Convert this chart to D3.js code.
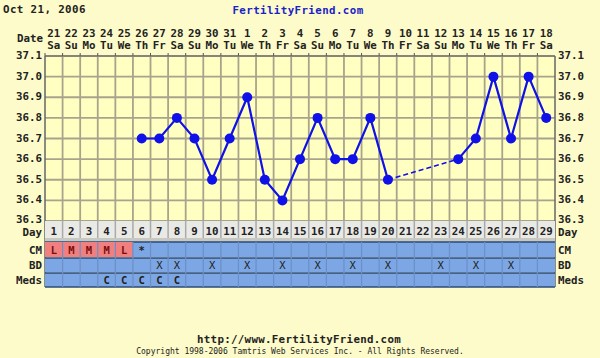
<!DOCTYPE html>
<html><head><meta charset="utf-8">
<script src="https://cdn.jsdelivr.net/npm/d3@7"></script>
<style>
html,body{margin:0;padding:0;background:#fdfbc9;}
svg{display:block;}
text{font-family:"DejaVu Sans Mono",monospace;font-weight:bold;fill:#222;}
</style></head><body>
<script>
const dayNums = d3.range(1, 30);
const dates = ["21","22","23","24","25","26","27","28","29","30","31","1","2","3","4","5","6","7","8","9","10","11","12","13","14","15","16","17","18"];
const weekdays = ["Sa","Su","Mo","Tu","We","Th","Fr","Sa","Su","Mo","Tu","We","Th","Fr","Sa","Su","Mo","Tu","We","Th","Fr","Sa","Su","Mo","Tu","We","Th","Fr","Sa"];
const tempDays = [6,7,8,9,10,11,12,13,14,15,16,17,18,19,20,24,25,26,27,28,29];
const temps = [36.7,36.7,36.8,36.7,36.5,36.7,36.9,36.5,36.4,36.6,36.8,36.6,36.6,36.8,36.5,36.6,36.7,37.0,36.7,37.0,36.8];
const yTicks = [36.3,36.4,36.5,36.6,36.7,36.8,36.9,37.0,37.1];
const cmDays = [1,2,3,4,5,6];
const cmVals = ["L","M","M","M","L","*"];
const bdDays = [7,8,10,12,14,16,18,20,23,25,27];
const medsDays = [4,5,6,7,8];
const medsVals = ["C","C","C","C","C"];

(function(){
const W = 600, H = 358;
const pL = 45, pR = 555, pT = 56, pB = 221;
const FS = 10.8;
const svg = d3.select("body").append("svg").attr("width", W).attr("height", H);
svg.append("rect").attr("width", W).attr("height", H).attr("fill", "#fdfbc9");

const x = d3.scaleBand().domain(dayNums).range([pL, pR]).padding(0);
const y = d3.scaleLinear().domain([36.3, 37.1]).range([pB, pT]);
const bw = x.bandwidth();
const cx = d => x(d) + bw / 2;

svg.append("rect").attr("x", pL).attr("y", pT).attr("width", pR-pL).attr("height", pB-pT).attr("fill", "#ffffc2");

const grid = svg.append("g").attr("stroke", "#a8a48c").attr("stroke-width", 1.8);
dayNums.slice(1).forEach(d => {
  grid.append("line").attr("x1", x(d)).attr("x2", x(d)).attr("y1", pT).attr("y2", pB);
});
yTicks.forEach(t => {
  grid.append("line").attr("x1", pL).attr("x2", pR).attr("y1", y(t)).attr("y2", y(t));
});
dayNums.forEach(d => {
  svg.append("line").attr("x1", x(d)).attr("x2", x(d)).attr("y1", pT-3).attr("y2", pT).attr("stroke", "#555").attr("stroke-width", 1);
});
svg.append("line").attr("x1", pL).attr("x2", pL).attr("y1", pT).attr("y2", 287).attr("stroke", "#666").attr("stroke-width", 1.5);
svg.append("line").attr("x1", pR).attr("x2", pR).attr("y1", pT).attr("y2", 287).attr("stroke", "#666").attr("stroke-width", 1.5);
svg.append("line").attr("x1", pL).attr("x2", pR).attr("y1", pT).attr("y2", pT).attr("stroke", "#666").attr("stroke-width", 1);

yTicks.forEach((t, i) => {
  const off = i === 0 ? 1.5 : 3;
  svg.append("text").attr("x", pL-3).attr("y", y(t)+off).attr("text-anchor", "end").attr("font-size", FS).text(t.toFixed(1));
  svg.append("text").attr("x", pR+3).attr("y", y(t)+off).attr("text-anchor", "start").attr("font-size", FS).text(t.toFixed(1));
});

svg.append("text").attr("x", 3).attr("y", 13).attr("font-size", FS).attr("letter-spacing", 0.4).text("Oct 21, 2006");
svg.append("text").attr("x", 298).attr("y", 14).attr("text-anchor", "middle").attr("font-size", FS).attr("letter-spacing", 0.4).style("fill", "#1a22c8").text("FertilityFriend.com");
svg.append("text").attr("x", 43).attr("y", 41.5).attr("text-anchor", "end").attr("font-size", FS).text("Date");
dayNums.forEach((d, i) => {
  svg.append("text").attr("x", cx(d)).attr("y", 36.5).attr("text-anchor", "middle").attr("font-size", FS).text(dates[i]);
  svg.append("text").attr("x", cx(d)).attr("y", 48.5).attr("text-anchor", "middle").attr("font-size", FS).text(weekdays[i]);
});

const rows = [
  {name: "Day", y0: 221, y1: 238, fill: "#e9e9e6"},
  {name: "CM", y0: 242, y1: 257, fill: "#7ca7e4"},
  {name: "BD", y0: 258, y1: 272, fill: "#7ca7e4"},
  {name: "Meds", y0: 273, y1: 287, fill: "#7ca7e4"}
];
svg.append("rect").attr("x", pL).attr("y", 238).attr("width", pR-pL).attr("height", 4).attr("fill", "#c8c8c0");
rows.forEach(r => {
  svg.append("rect").attr("x", pL).attr("y", r.y0).attr("width", pR-pL).attr("height", r.y1-r.y0).attr("fill", r.fill);
  if (r.name !== "Day") {
    svg.append("line").attr("x1", pL).attr("x2", pR).attr("y1", r.y0).attr("y2", r.y0).attr("stroke", "#2b4b78").attr("stroke-width", 1.5);
  }
  const by = r.name === "Day" ? 236 : (r.y0+r.y1)/2+4;
  svg.append("text").attr("x", pL-3).attr("y", by).attr("text-anchor", "end").attr("font-size", FS).text(r.name);
  svg.append("text").attr("x", pR+3).attr("y", by).attr("text-anchor", "start").attr("font-size", FS).text(r.name);
});
svg.append("line").attr("x1", pL).attr("x2", pR).attr("y1", 287).attr("y2", 287).attr("stroke", "#2b4b78").attr("stroke-width", 1.5);
cmDays.forEach((d, i) => {
  if (cmVals[i] !== "*") svg.append("rect").attr("x", x(d)).attr("y", 242).attr("width", bw).attr("height", 15).attr("fill", "#f08080");
});
dayNums.slice(1).forEach(d => {
  svg.append("line").attr("x1", x(d)).attr("x2", x(d)).attr("y1", 221).attr("y2", 238).attr("stroke", "#aaa").attr("stroke-width", 1.5);
  svg.append("line").attr("x1", x(d)).attr("x2", x(d)).attr("y1", 242).attr("y2", 287).attr("stroke", "#6b8fc6").attr("stroke-width", 1.2);
});
dayNums.forEach(d => {
  svg.append("text").attr("x", cx(d)).attr("y", 235).attr("text-anchor", "middle").attr("font-size", FS).text(d);
});
cmDays.forEach((d, i) => {
  svg.append("text").attr("x", cx(d)).attr("y", 254).attr("text-anchor", "middle").attr("font-size", 10.5).style("fill", cmVals[i] === "*" ? "#222" : "#7a0c0c").text(cmVals[i]);
});
bdDays.forEach(d => {
  svg.append("text").attr("x", cx(d)).attr("y", 269).attr("text-anchor", "middle").attr("font-size", 10.5).style("font-weight", "normal").text("X");
});
medsDays.forEach((d, i) => {
  svg.append("text").attr("x", cx(d)).attr("y", 284).attr("text-anchor", "middle").attr("font-size", 10.5).text(medsVals[i]);
});

const pts = tempDays.map((d, i) => ({d, t: temps[i]}));
const line = d3.line().x(p => cx(p.d)).y(p => y(p.t));
const seg1 = pts.filter(p => p.d <= 20);
const seg2 = pts.filter(p => p.d >= 24);
const blue = "#1010e8";
svg.append("path").attr("d", line(seg1)).attr("fill", "none").attr("stroke", blue).attr("stroke-width", 2.2);
svg.append("path").attr("d", line([seg1[seg1.length-1], seg2[0]])).attr("fill", "none").attr("stroke", blue).attr("stroke-width", 1.6).attr("stroke-dasharray", "5,3");
svg.append("path").attr("d", line(seg2)).attr("fill", "none").attr("stroke", blue).attr("stroke-width", 2.2);
svg.selectAll("circle.pt").data(pts).enter().append("circle")
  .attr("cx", p => cx(p.d)).attr("cy", p => y(p.t)).attr("r", 5).attr("fill", blue);

svg.append("text").attr("x", 299).attr("y", 343).attr("text-anchor", "middle").attr("font-size", FS).attr("letter-spacing", 0.3).text("http://www.FertilityFriend.com");
svg.append("text").attr("x", 300).attr("y", 354).attr("text-anchor", "middle").attr("font-size", 8).style("font-weight", "normal").text("Copyright 1998-2006 Tamtris Web Services Inc. - All Rights Reserved.");
})();
</script>
</body></html>
